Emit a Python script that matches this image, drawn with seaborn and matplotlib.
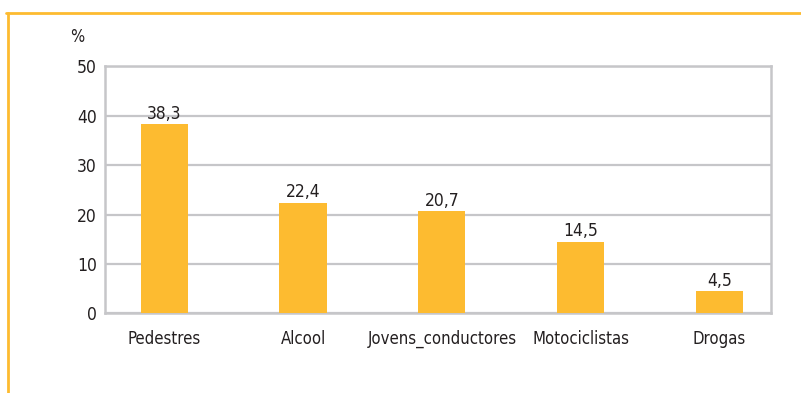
import numpy as np
import pandas as pd
import matplotlib.pyplot as plt
import seaborn as sns
from matplotlib.lines import Line2D

categorias = ['Pedestres', 'Alcool', 'Jovens_conductores', 'Motociclistas', 'Drogas']
valores = [38.3, 22.4, 20.7, 14.5, 4.5]
yticks = [0, 10, 20, 30, 40, 50]

barcolor = '#FDBB30'
gridcolor = '#C6C6C9'
textcolor = '#231F20'

df = pd.DataFrame({'cat': categorias, 'val': valores})

sns.set_style('white')
plt.rcParams['font.family'] = ['DejaVu Sans']
plt.rcParams['font.stretch'] = 'condensed'

fig = plt.figure(figsize=(8.01, 3.93), dpi=100)
ax = fig.add_axes([0.1311, 0.2023, 0.8314, 0.6297])

sns.barplot(x='cat', y='val', data=df, color=barcolor, saturation=1,
            width=0.34, linewidth=0, ax=ax, zorder=3)

ax.set_ylim(0, 50)
ax.set_xlim(-0.427, 4.371)
ax.set_yticks(yticks)
ax.yaxis.grid(True, color=gridcolor, linewidth=1.6, zorder=0)
ax.set_axisbelow(True)
for s in ax.spines.values():
    s.set_visible(True)
    s.set_color(gridcolor)
    s.set_linewidth(1.8)

ax.tick_params(axis='x', length=0, pad=12, labelsize=12, labelcolor=textcolor)
ax.tick_params(axis='y', length=0, pad=6, labelsize=12.5, labelcolor=textcolor)
ax.set_xlabel('')
ax.set_ylabel('')

labels = [f'{v:.1f}'.replace('.', ',') for v in valores]
ax.bar_label(ax.containers[0], labels=labels, padding=1, fontsize=12.5,
             color=textcolor)

ax.annotate('%', xy=(0, 1), xycoords='axes fraction', xytext=(-20, 21),
            textcoords='offset points', fontsize=12, color=textcolor,
            ha='center', va='center')

# orange frame
fig.add_artist(Line2D([6 / 801, 1], [1 - 13 / 393, 1 - 13 / 393],
                      color=barcolor, linewidth=2, transform=fig.transFigure))
fig.add_artist(Line2D([8 / 801, 8 / 801], [0, 1 - 13 / 393],
                      color=barcolor, linewidth=2, transform=fig.transFigure))

fig.savefig('out.png', dpi=100)
